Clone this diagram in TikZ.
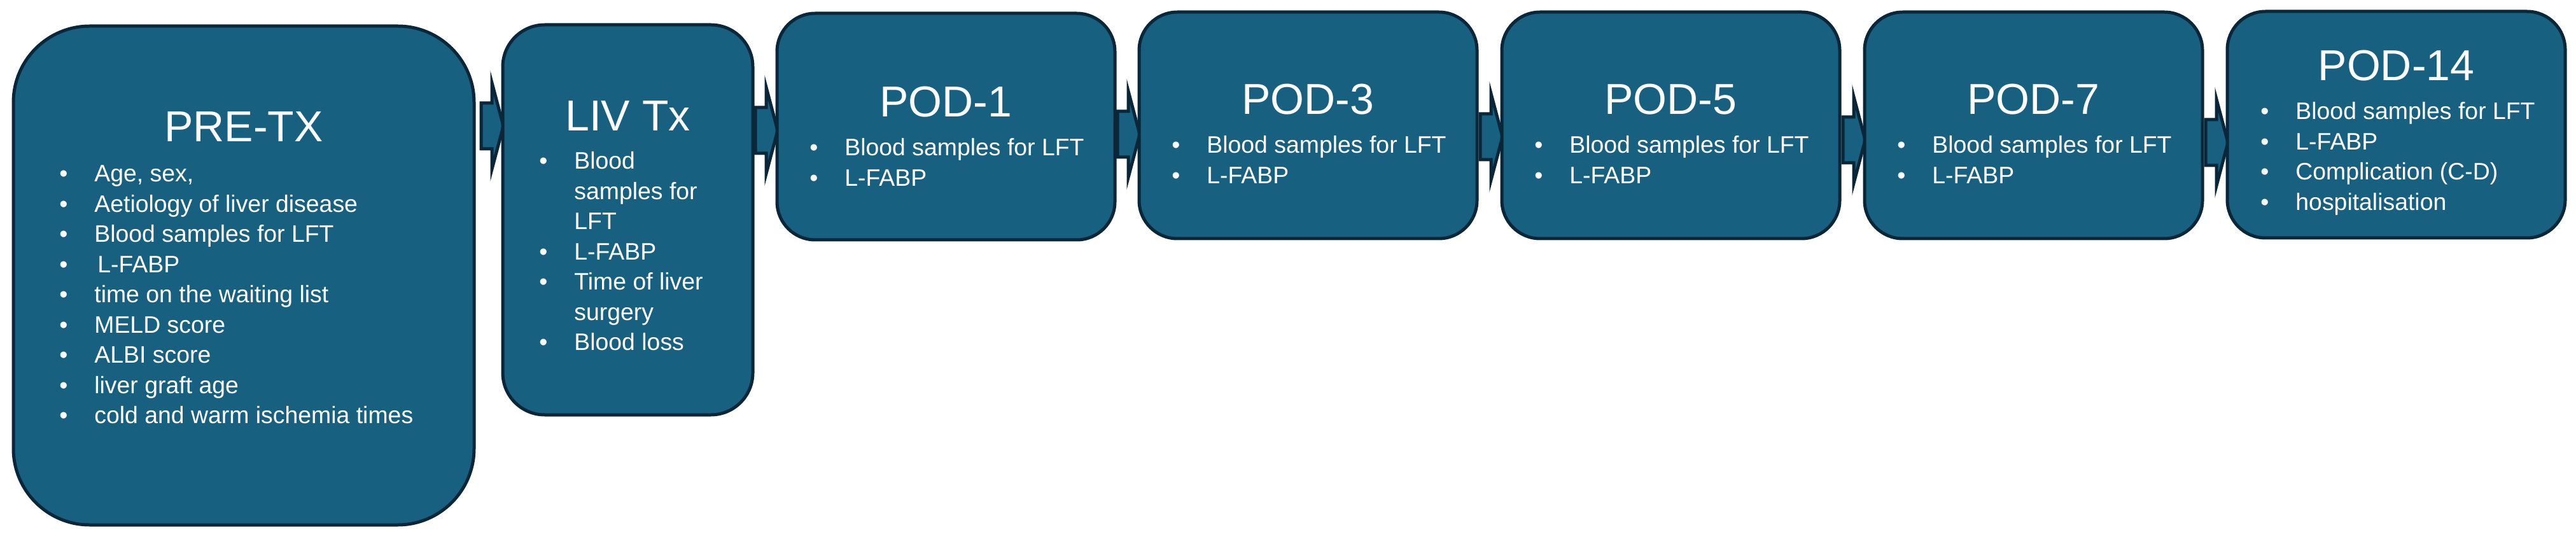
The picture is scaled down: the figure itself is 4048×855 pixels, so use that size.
\documentclass[tikz,border=0pt]{standalone}
\usepackage{fontspec}
\setmainfont{Liberation Sans}
\usetikzlibrary{calc}
\definecolor{boxfill}{RGB}{23,96,128}
\definecolor{boxline}{RGB}{9,39,56}
\pgfdeclarelayer{bg}
\pgfsetlayers{bg,main}
\tikzset{
  stagebox/.style={draw=boxline, fill=boxfill, line width=2.5pt, rectangle,
    inner sep=0pt, outer sep=0pt, anchor=north west},
  bigbox/.style={stagebox, minimum width=362pt, minimum height=392pt, rounded corners=60pt},
  midbox/.style={stagebox, minimum width=196.5pt, minimum height=306.5pt, rounded corners=33pt},
  podbox/.style={stagebox, minimum width=265.5pt, minimum height=178pt, rounded corners=30pt},
  arr/.style={draw=boxline, fill=boxfill, line width=2.5pt, line join=miter},
  titletext/.style={text=white, font=\fontsize{34}{40}\selectfont, inner sep=0pt, anchor=base},
  listtext/.style={text=white, font=\fontsize{18.7}{23.75}\selectfont, inner sep=0pt, anchor=base west},
}
\newcommand\blockarrow[3]{%
  \draw[arr] let \p1=(#1.east), \p2=(#2.west), \p3=(0,#3) in
    (\x2-17pt,\y3+18pt) -- (\x2-8.5pt,\y3+18pt) -- (\x2-8.5pt,\y3+34pt) --
    (\x2+0.5pt,\y3) -- (\x2-8.5pt,\y3-34pt) -- (\x2-8.5pt,\y3-18pt) --
    (\x2-17pt,\y3-18pt) -- cycle;}
\newcommand\blist[1]{\begin{tabular}[t]{@{}p{27.5pt}@{}l@{}}#1\end{tabular}}
\begin{document}
\begin{tikzpicture}[x=0.5pt,y=-0.5pt]
\useasboundingbox (0,0) rectangle (4048,855);
% boxes
\node[bigbox] (b1) at (21,41) {};
\node[midbox] (b2) at (790,39) {};
\node[podbox] (b3) at (1221,21) {};
\node[podbox] (b4) at (1790,19) {};
\node[podbox] (b5) at (2360,19) {};
\node[podbox] (b6) at (2930,19) {};
\node[podbox] (b7) at (3500,18) {};
% titles
\node[titletext] (t1) at ($(b1.north)+(0,182)$) {PRE-TX};
\node[titletext] (t2) at ($(b2.north)+(0,167)$) {LIV Tx};
\node[titletext] (t3) at ($(b3.north)+(0,163)$) {POD-1};
\node[titletext] (t4) at ($(b4.north)+(0,161)$) {POD-3};
\node[titletext] (t5) at ($(b5.north)+(0,161)$) {POD-5};
\node[titletext] (t6) at ($(b6.north)+(0,161)$) {POD-7};
\node[titletext] (t7) at ($(b7.north)+(0,109)$) {POD-14};
% lists
\node[listtext] (l1) at ($(b1.north west)+(72,245)$) {\blist{%
  \textbullet & Age, sex,\\
  \textbullet & Aetiology of liver disease\\
  \textbullet & Blood samples for LFT\\
  \textbullet & \hspace{2.5pt}L-FABP\\
  \textbullet & time on the waiting list\\
  \textbullet & MELD score\\
  \textbullet & ALBI score\\
  \textbullet & liver graft age\\
  \textbullet & cold and warm ischemia times}};
\node[listtext] (l2) at ($(b2.north west)+(57,227)$) {\blist{%
  \textbullet & Blood\\
              & samples for\\
              & LFT\\
  \textbullet & L-FABP\\
  \textbullet & Time of liver\\
              & surgery\\
  \textbullet & Blood loss}};
\node[listtext] (l3) at ($(b3.north west)+(51,224)$) {\blist{%
  \textbullet & Blood samples for LFT\\
  \textbullet & L-FABP}};
\node[listtext] (l4) at ($(b4.north west)+(51,222)$) {\blist{%
  \textbullet & Blood samples for LFT\\
  \textbullet & L-FABP}};
\node[listtext] (l5) at ($(b5.north west)+(51,222)$) {\blist{%
  \textbullet & Blood samples for LFT\\
  \textbullet & L-FABP}};
\node[listtext] (l6) at ($(b6.north west)+(51,222)$) {\blist{%
  \textbullet & Blood samples for LFT\\
  \textbullet & L-FABP}};
\node[listtext] (l7) at ($(b7.north west)+(52,170)$) {\blist{%
  \textbullet & Blood samples for LFT\\
  \textbullet & L-FABP\\
  \textbullet & Complication (C-D)\\
  \textbullet & hospitalisation}};
% background and arrows
\begin{pgfonlayer}{bg}
  \fill[white] (0,0) rectangle (4048,855);
  \blockarrow{b1}{b2}{198}
  \blockarrow{b2}{b3}{205}
  \blockarrow{b3}{b4}{211}
  \blockarrow{b4}{b5}{215}
  \blockarrow{b5}{b6}{220}
  \blockarrow{b6}{b7}{224}
\end{pgfonlayer}
\end{tikzpicture}
\end{document}
